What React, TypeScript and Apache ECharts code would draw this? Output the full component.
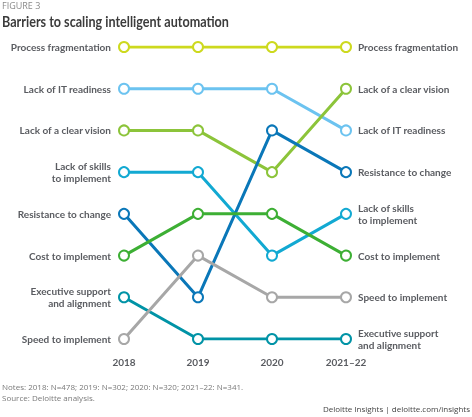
import React, { useRef, useEffect } from 'react'
import * as echarts from 'echarts'

const years = ['2018', '2019', '2020', '2021–22']

const barriers = [
  'Process fragmentation',
  'Lack of IT readiness',
  'Lack of a clear vision',
  'Lack of skills\nto implement',
  'Resistance to change',
  'Cost to implement',
  'Executive support\nand alignment',
  'Speed to implement',
]

// rank per year (1 = top barrier)
const ranks = [
  [1, 1, 1, 1],
  [2, 2, 2, 3],
  [3, 3, 4, 2],
  [4, 4, 6, 5],
  [5, 7, 3, 4],
  [6, 5, 5, 6],
  [7, 8, 8, 8],
  [8, 6, 7, 7],
]

const colors = [
  '#CDD91E',
  '#6CC3F0',
  '#8CC43A',
  '#12A9D2',
  '#0A77B8',
  '#3DAF34',
  '#0093A6',
  '#A7A7A7',
]

const labelFont = 'Lato, "Liberation Sans", sans-serif'

export default function App() {
  const containerRef = useRef<HTMLDivElement>(null)

  useEffect(() => {
    if (!containerRef.current) return
    const chart = echarts.init(containerRef.current, null, { renderer: 'svg' })

    const labelStyle = {
      show: true,
      color: '#5A5C61',
      fontFamily: labelFont,
      fontWeight: 'bold' as const,
      fontSize: 10,
      lineHeight: 12,
    }

    const series = barriers.map((name, s) => ({
      type: 'line' as const,
      name,
      data: ranks[s].map((r, i) => {
        if (i === 0)
          return { value: r, label: { ...labelStyle, position: 'left' as const, distance: 7 } }
        if (i === ranks[s].length - 1)
          return { value: r, label: { ...labelStyle, position: 'right' as const, distance: 6 } }
        return r
      }),
      label: { show: false, formatter: () => name },
      symbol: 'circle',
      symbolSize: 10,
      itemStyle: { color: '#fff', borderColor: colors[s], borderWidth: 2 },
      lineStyle: { color: colors[s], width: 3 },
      emphasis: { disabled: true },
      z: 2 + s,
    }))

    chart.setOption({
      animation: false,
      graphic: [
        {
          type: 'text',
          left: 2,
          top: 1,
          style: { text: 'FIGURE 3', fill: '#8A8A8A', fontSize: 9, fontFamily: '"Open Sans", sans-serif' },
        },
        {
          type: 'text',
          x: 2,
          y: 14,
          scaleX: 0.84,
          style: {
            text: 'Barriers to scaling intelligent automation',
            fill: '#3C3C3C',
            fontSize: 15,
            fontWeight: 'bold',
            fontFamily: labelFont,
          },
        },
        {
          type: 'text',
          left: 2,
          top: 381,
          style: {
            text: 'Notes: 2018: N=478; 2019: N=302; 2020: N=320; 2021–22: N=341.\nSource: Deloitte analysis.',
            fill: '#7A7A7A',
            fontSize: 8,
            lineHeight: 11,
            fontFamily: '"Open Sans", sans-serif',
          },
        },
        {
          type: 'text',
          right: 2,
          top: 404,
          style: {
            text: 'Deloitte Insights | deloitte.com/insights',
            fill: '#444',
            fontSize: 8,
            fontFamily: '"Open Sans", sans-serif',
          },
        },
      ],
      grid: { left: 124, right: 126, top: 47, bottom: 78 },
      xAxis: {
        type: 'category',
        data: years,
        boundaryGap: false,
        axisLine: { show: false },
        axisTick: { show: false },
        splitLine: { show: false },
        axisLabel: {
          color: '#5A5C61',
          fontFamily: labelFont,
          fontWeight: 'bold',
          fontSize: 10,
          margin: 18,
          interval: 0,
        },
      },
      yAxis: {
        type: 'value',
        inverse: true,
        min: 1,
        max: 8,
        show: false,
      },
      series,
    })

    return () => chart.dispose()
  }, [])

  return (
    <div
      ref={containerRef}
      style={{ position: 'fixed', left: 0, top: 0, width: 472, height: 417 }}
    />
  )
}
